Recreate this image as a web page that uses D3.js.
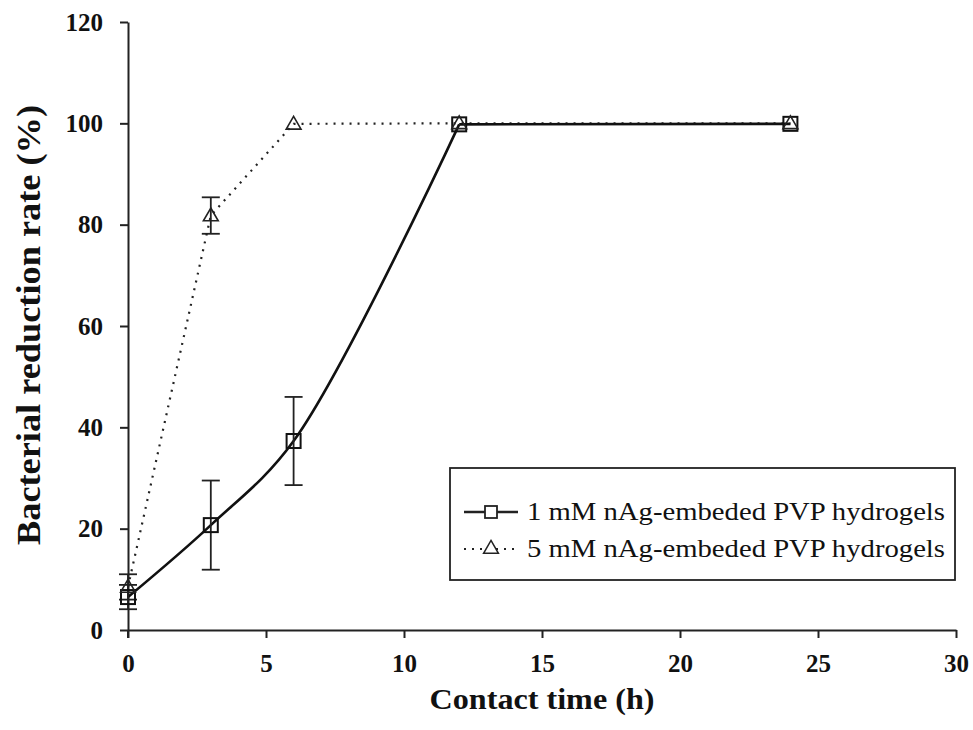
<!DOCTYPE html>
<html><head><meta charset="utf-8">
<script src="https://cdn.jsdelivr.net/npm/d3@7"></script>
<style>body{margin:0;background:#fff}</style>
</head><body>
<svg id="c" width="973" height="730"></svg>
<script>
const times = [0, 3, 6, 12, 24];
const series1Name = "1 mM nAg-embeded PVP hydrogels";
const series1 = [6.5, 20.7, 37.3, 99.8, 99.9];
const series1Err = [2.4, 8.8, 8.7, 0, 0];
const series2Name = "5 mM nAg-embeded PVP hydrogels";
const series2 = [8.5, 81.8, 99.9, 100, 100];
const series2Err = [2.5, 3.6, 0, 0, 0];
const xTicks = [0, 5, 10, 15, 20, 25, 30];
const yTicks = [0, 20, 40, 60, 80, 100, 120];

const svg = d3.select("#c");
const x = d3.scaleLinear().domain([0, 30]).range([128, 956]);
const y = d3.scaleLinear().domain([0, 120]).range([630, 22]);
const font = "'Liberation Serif', 'Times New Roman', serif";

// axes
const xa = svg.append("g").attr("transform", "translate(0,630)")
  .call(d3.axisBottom(x).tickValues(xTicks).tickSize(8).tickSizeOuter(0).tickPadding(16));
const ya = svg.append("g").attr("transform", "translate(128,0)")
  .call(d3.axisLeft(y).tickValues(yTicks).tickSize(8).tickSizeOuter(0).tickPadding(17));
[xa, ya].forEach(a => {
  a.select(".domain").attr("stroke", "#222").attr("stroke-width", 2);
  a.selectAll(".tick line").attr("stroke", "#222").attr("stroke-width", 2);
  a.selectAll(".tick text").attr("font-family", font).attr("font-size", 25)
    .attr("font-weight", "bold").attr("fill", "#111");
});
svg.append("line").attr("x1", x(0)).attr("x2", x(0)).attr("y1", y(0)).attr("y2", y(0) + 8)
  .attr("stroke", "#222").attr("stroke-width", 2);

// axis titles
svg.append("text").attr("x", 542).attr("y", 709).attr("text-anchor", "middle")
  .attr("font-family", font).attr("font-size", 30).attr("font-weight", "bold").attr("fill", "#111")
  .attr("textLength", 225).attr("lengthAdjust", "spacingAndGlyphs")
  .text("Contact time (h)");
svg.append("text").attr("transform", "translate(40,325) rotate(-90)").attr("text-anchor", "middle")
  .attr("font-family", font).attr("font-size", 33).attr("font-weight", "bold").attr("fill", "#111")
  .attr("textLength", 440).attr("lengthAdjust", "spacingAndGlyphs")
  .text("Bacterial reduction rate (%)");

const d1 = times.map((t, i) => ({t, v: series1[i], e: series1Err[i]}));
const d2 = times.map((t, i) => ({t, v: series2[i], e: series2Err[i]}));

// lines
svg.append("path").datum(d2)
  .attr("d", d3.line().x(d => x(d.t)).y(d => y(d.v)))
  .attr("fill", "none").attr("stroke", "#222").attr("stroke-width", 2.2)
  .attr("stroke-dasharray", "2,6");
const rising = d1.filter(d => d.t <= 12);
const plateau = d1.filter(d => d.t >= 12);
const solid = {fill: "none", stroke: "#111", "stroke-width": 2.6};
const p1 = svg.append("path").datum(rising)
  .attr("d", d3.line().curve(d3.curveCatmullRom.alpha(0.5)).x(d => x(d.t)).y(d => y(d.v)));
const p2 = svg.append("path").datum(plateau)
  .attr("d", d3.line().x(d => x(d.t)).y(d => y(d.v)));
[p1, p2].forEach(p => Object.entries(solid).forEach(([k, v]) => p.attr(k, v)));

// error bars
function errBars(data) {
  const g = svg.append("g").attr("stroke", "#222").attr("stroke-width", 1.8);
  data.filter(d => d.e > 0).forEach(d => {
    g.append("line").attr("x1", x(d.t)).attr("x2", x(d.t)).attr("y1", y(d.v - d.e)).attr("y2", y(d.v + d.e));
    [d.v - d.e, d.v + d.e].forEach(v => {
      g.append("line").attr("x1", x(d.t) - 9).attr("x2", x(d.t) + 9).attr("y1", y(v)).attr("y2", y(v));
    });
  });
}
errBars(d1);
errBars(d2);

// markers
const tri = d3.symbol().type(d3.symbolTriangle).size(95);
function triangles(g, data) {
  g.selectAll(null).data(data).join("path")
    .attr("d", tri).attr("transform", d => `translate(${x(d.t)},${y(d.v) + 1})`)
    .attr("fill", "none").attr("stroke", "#222").attr("stroke-width", 1.6);
}
function squares(g, data) {
  g.selectAll(null).data(data).join("rect")
    .attr("x", d => x(d.t) - 7).attr("y", d => y(d.v) - 7).attr("width", 14).attr("height", 14)
    .attr("fill", "none").attr("stroke", "#111").attr("stroke-width", 2);
}
squares(svg.append("g"), d1);
triangles(svg.append("g"), d2);

// legend
const lg = svg.append("g");
lg.append("rect").attr("x", 450).attr("y", 468).attr("width", 505).attr("height", 112)
  .attr("fill", "#fff").attr("stroke", "#222").attr("stroke-width", 1.8);
const legendItems = [
  {name: series1Name, dash: null, sym: "sq", yy: 512},
  {name: series2Name, dash: "2,6", sym: "tri", yy: 549}
];
legendItems.forEach(it => {
  lg.append("line").attr("x1", 464).attr("x2", 518).attr("y1", it.yy).attr("y2", it.yy)
    .attr("stroke", "#222").attr("stroke-width", it.dash ? 2 : 2.4)
    .attr("stroke-dasharray", it.dash);
  if (it.sym === "sq") {
    lg.append("rect").attr("x", 485).attr("y", it.yy - 6).attr("width", 12).attr("height", 12)
      .attr("fill", "#fff").attr("stroke", "#222").attr("stroke-width", 1.8);
  } else {
    lg.append("path").attr("d", tri).attr("transform", `translate(491,${it.yy})`)
      .attr("fill", "#fff").attr("stroke", "#222").attr("stroke-width", 1.5);
  }
  lg.append("text").attr("x", 527).attr("y", it.yy + 8).attr("font-family", font)
    .attr("font-size", 25).attr("fill", "#111")
    .attr("textLength", 418).attr("lengthAdjust", "spacingAndGlyphs").text(it.name);
});
</script>
</body></html>
